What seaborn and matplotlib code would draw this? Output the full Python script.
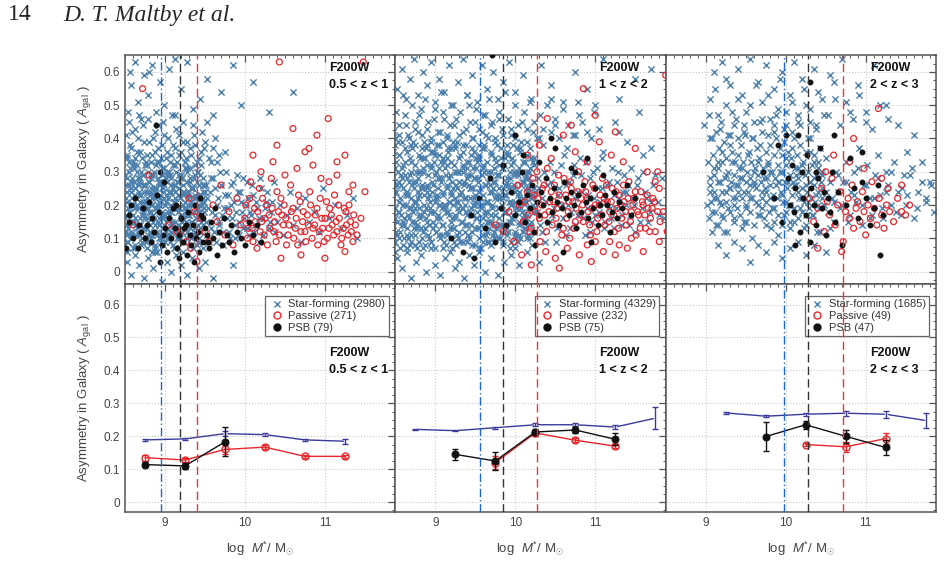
import numpy as np
import pandas as pd
import matplotlib
matplotlib.use("Agg")
import matplotlib.pyplot as plt
import seaborn as sns
from matplotlib.ticker import MultipleLocator, FuncFormatter
from matplotlib.lines import Line2D

sns.set_theme(style="white")
plt.rcParams['font.family'] = ['Liberation Sans', 'DejaVu Sans']
plt.rcParams['mathtext.fontset'] = 'custom'
plt.rcParams['mathtext.rm'] = 'Liberation Sans'
plt.rcParams['mathtext.it'] = 'Liberation Sans:italic'
plt.rcParams['mathtext.bf'] = 'Liberation Sans:bold'

# ---------------- data: top-row scatter, pairs (log M* x100, A_gal x100) ----------------
sf_top1 = [851,22,852,14,853,28,854,9,855,18,856,31,857,25,858,12,859,20,860,7,861,27,862,16,863,23,864,11,865,30,866,19,867,14,868,26,869,21,870,8,
871,17,872,29,873,13,874,24,875,19,876,10,877,32,878,22,879,15,880,27,881,12,882,20,883,25,884,6,885,17,886,30,887,14,888,23,889,19,890,11,
891,28,892,16,893,21,894,26,895,9,896,18,897,24,898,13,899,31,900,20,901,15,902,27,903,10,904,22,905,17,906,29,907,12,908,24,909,19,910,8,
911,26,912,15,913,21,914,30,915,13,916,18,917,25,918,11,919,22,920,16,921,28,922,9,923,20,924,24,925,14,926,19,927,31,928,12,929,23,930,17,
931,27,932,10,933,21,934,15,935,25,936,18,937,29,938,13,939,22,940,8,941,19,942,26,943,16,944,12,945,23,946,20,947,28,948,14,949,18,950,24,
851,17,853,11,855,26,857,20,859,15,861,32,863,19,865,13,867,24,869,28,871,10,873,21,875,26,877,16,879,11,881,23,883,18,885,29,887,8,889,25,
891,20,893,14,895,27,897,17,899,22,901,12,903,29,905,24,907,18,909,14,911,21,913,26,915,10,917,19,919,28,921,15,923,23,925,31,927,17,929,20,
931,13,933,25,935,11,937,22,939,16,941,30,943,20,945,15,947,22,949,26,
850,29,851,12,852,24,853,6,854,19,855,33,856,15,857,27,858,10,859,22,860,17,861,31,862,8,863,25,864,14,865,20,866,28,867,11,868,23,869,16,
870,30,871,9,872,26,873,18,874,13,875,32,876,21,877,7,878,24,879,19,880,27,881,14,882,29,883,10,884,22,885,17,886,12,887,24,888,6,889,19,
890,33,891,15,892,27,893,10,894,22,895,17,896,31,897,8,898,25,899,14,900,20,901,28,902,11,903,23,904,16,905,30,906,9,907,26,908,18,909,13,
910,32,911,21,912,7,913,24,914,19,915,27,916,14,917,29,918,10,919,22,920,17,921,12,922,24,923,6,924,19,925,33,926,15,927,27,928,10,929,22,
930,17,931,31,932,8,933,25,934,14,935,20,936,28,937,11,938,23,939,16,940,30,941,9,942,26,943,18,944,13,945,32,946,21,947,7,948,24,949,19,
850,16,851,26,852,9,853,21,854,13,855,30,856,18,857,24,858,11,859,28,860,20,861,15,862,25,863,7,864,22,865,32,866,12,867,19,868,27,869,14,
870,23,871,10,872,29,873,17,874,16,875,26,876,9,877,21,878,13,879,30,880,18,881,24,882,11,883,28,884,20,885,15,886,25,887,7,888,22,889,32,
890,12,891,19,892,27,893,14,894,23,895,10,896,29,897,17,898,16,899,26,900,9,901,21,902,13,903,30,904,18,905,24,906,11,907,28,908,20,909,15,
910,25,911,7,912,22,913,32,914,12,915,19,916,27,917,14,918,23,919,10,920,29,921,17,922,16,923,26,924,9,925,21,926,13,927,30,928,18,929,24,
930,11,931,28,932,20,933,15,934,25,935,7,936,22,937,32,938,12,939,19,940,27,941,14,942,23,943,10,944,29,945,17,946,16,947,26,948,9,949,21,
852,35,856,38,859,42,862,34,866,40,869,36,873,44,876,33,880,39,884,35,887,42,891,37,895,34,899,41,902,36,906,33,910,38,914,43,918,35,922,39,
926,34,931,37,936,41,940,33,945,36,950,39,955,34,960,37,965,33,975,36,
851,41,853,34,855,45,857,37,860,33,863,43,865,36,868,47,871,34,874,39,877,35,879,46,882,33,885,40,888,36,891,44,893,33,896,38,898,45,901,34,
904,40,907,35,909,47,912,37,915,33,917,41,920,36,923,45,925,33,928,39,932,35,935,44,938,38,942,34,946,42,949,37,953,45,957,33,962,40,968,35,
854,48,858,56,862,63,866,51,870,46,874,59,879,53,884,62,889,48,894,57,899,50,905,61,912,47,920,55,928,63,935,49,944,52,952,58,960,47,970,54,
985,62,995,50,1010,57,1030,48,1060,54,912,64,880,60,856,60,
852,3,857,-1,863,5,868,2,874,-2,879,4,885,1,890,6,896,-3,902,3,908,0,914,5,920,2,927,-1,934,4,942,1,950,3,960,-2,985,2,
951,15,953,22,955,9,957,28,959,18,961,12,963,25,965,20,967,14,969,30,971,17,973,8,975,23,977,19,980,12,982,26,984,16,986,21,988,10,990,29,
992,15,994,24,996,18,998,13,1001,20,1003,27,1005,11,1008,17,1010,23,1012,14,1015,19,1018,9,1020,25,1023,16,1026,21,1030,13,1033,18,1036,27,
1040,15,1044,20,1048,11,1052,17,1056,24,1060,14,1065,19,1070,9,1075,22,1080,15,1086,18,1092,12,1098,25,1105,16,1112,20,1120,13,1128,17,
1135,22,1140,10,
951,26,952,11,954,19,956,24,958,13,960,28,962,17,964,9,966,22,968,15,970,26,972,12,974,19,976,30,978,16,979,23,981,10,983,20,985,27,987,14,
989,18,991,24,993,11,995,21,997,28,999,16,1002,13,1004,22,1006,18,1009,26,1011,12,1014,21,1017,16,1019,28,1022,11,1025,19,1028,24,1031,15,
1034,21,1038,12]
pas_top1 = [872,55,880,29,860,14,905,14,915,12,930,22,937,18,920,12,927,9,932,7,940,3,945,16,950,12,955,9,960,20,965,15,970,26,975,11,980,18,985,8,
990,22,995,14,1000,16,1003,10,1006,22,1009,13,1012,19,1015,7,1018,25,1021,15,1024,11,1027,20,1030,17,1033,28,1036,12,1039,9,1042,18,1045,22,
1048,14,1051,16,1054,11,1057,26,1060,19,1063,13,1066,8,1069,21,1072,15,1075,12,1078,17,1081,24,1084,10,1087,14,1090,19,1093,12,1096,16,1099,9,
1102,21,1105,13,1108,17,1111,11,1114,15,1117,20,1120,8,1123,13,1126,18,1129,11,1132,15,1135,9,1138,14,
1001,20,1004,13,1007,27,1010,9,1013,15,1016,18,1019,12,1022,22,1025,16,1028,8,1031,13,1034,19,1037,15,1040,24,1043,11,1046,17,1049,20,1052,8,
1055,14,1058,18,1061,10,1064,16,1067,23,1070,12,1073,18,1076,9,1079,14,1082,20,1085,13,1088,17,1091,8,1094,22,1097,13,1100,16,1103,10,1106,19,
1109,14,1112,23,1115,12,1118,16,1121,10,1124,19,1127,14,1130,20,1133,12,1136,17,1140,11,
1020,30,1035,33,1050,29,1065,31,1075,36,1085,32,1095,28,1105,27,1115,33,1125,35,1040,38,1060,43,1080,37,1104,46,1010,35,1090,41,1130,24,
1045,4,1070,5,1100,4,1125,6,1043,63,1148,63,1145,16,1150,24,1135,26,1115,29]
psb_top1 = [851,7,855,17,855,15,857,20,863,22,868,14,872,19,875,10,878,14,880,21,883,9,886,12,889,44,890,23,894,30,896,8,899,27,900,13,903,6,905,16,
908,10,910,19,912,13,915,7,917,11,920,16,922,9,924,13,927,5,929,18,931,11,933,8,935,14,937,20,939,10,941,12,943,6,945,17,947,9,950,13,
952,11,955,7,958,15,960,10,963,19,965,5,968,12,971,8,974,16,977,11,980,9,983,14,986,6,990,12,995,10,1000,8,1005,15,1010,11,894,3,860,10,
866,7,870,12,884,16,892,18,898,11,914,20,918,4,926,14,936,3,944,22,948,16,954,9,1015,14,1020,9]

sf_top2 = [846,22,847,14,849,31,850,9,852,26,853,18,855,35,856,12,858,28,859,20,861,16,862,33,864,7,865,24,867,19,868,29,870,11,871,37,873,21,874,15,
876,27,877,13,879,30,880,17,882,25,883,10,885,34,886,23,888,19,889,32,891,22,892,14,894,31,895,9,897,26,898,18,900,35,901,12,903,28,904,20,
906,16,907,33,909,7,910,24,912,19,913,29,915,11,916,37,918,21,919,15,921,27,922,13,924,30,925,17,927,25,928,10,930,34,931,23,933,19,934,32,
936,22,937,14,939,31,940,9,942,26,943,18,945,35,946,12,948,28,949,20,951,16,952,33,954,7,955,24,957,19,958,29,960,11,961,37,963,21,964,15,
966,27,967,13,969,30,970,17,972,25,973,10,975,34,976,23,978,19,979,32,981,22,982,14,984,31,985,9,987,26,988,18,990,35,991,12,993,28,994,20,
996,16,997,33,999,7,1000,24,1002,19,1003,29,1005,11,1006,37,1008,21,1009,15,1011,27,1012,13,1014,30,1015,17,1017,25,1018,10,1020,34,1021,23,
1023,19,1024,32,
845,17,848,26,851,12,854,21,857,29,860,15,863,24,866,10,869,19,872,27,875,8,878,22,881,16,884,30,887,13,890,25,893,19,896,36,899,14,902,23,
905,28,908,11,911,20,914,32,917,17,920,24,923,9,926,21,929,27,932,15,935,30,938,18,941,11,944,25,947,20,950,28,953,13,956,22,959,31,962,17,
965,9,968,26,971,20,974,14,977,29,980,23,983,12,986,18,989,27,992,21,995,15,998,30,1001,10,1004,22,1007,26,1010,16,1013,21,1016,28,1019,14,
1022,20,1025,24,
845,29,846,12,847,36,848,24,849,6,850,19,851,33,852,15,853,39,854,27,855,10,856,22,857,17,858,31,859,8,860,25,861,14,862,37,863,20,864,28,
865,11,866,23,867,16,868,34,869,30,870,9,871,26,872,18,873,13,874,38,875,32,876,21,877,7,878,24,879,35,880,19,881,30,882,13,883,37,884,25,
885,7,886,18,887,34,888,16,889,38,890,26,891,11,892,23,893,18,894,32,895,9,896,24,897,15,898,36,899,21,900,29,901,12,902,22,903,17,904,35,
905,31,906,10,907,27,908,19,909,14,910,39,911,33,912,20,913,8,914,25,915,34,916,18,917,28,918,13,919,37,920,23,921,7,922,20,923,32,924,16,
925,38,926,26,927,11,928,21,929,18,930,30,931,9,932,24,933,15,934,36,935,19,936,27,937,12,938,22,939,17,940,33,941,29,942,10,943,25,944,19,
945,14,946,37,947,31,948,22,949,8,950,23,951,34,952,18,953,28,954,13,955,35,956,25,957,7,958,20,959,32,960,16,961,38,962,26,963,11,964,21,
965,18,966,30,967,9,968,24,969,15,970,36,971,19,972,27,973,12,974,22,975,17,976,33,977,29,978,10,979,25,980,19,981,14,982,37,983,31,984,22,
985,8,986,23,987,34,988,18,989,28,990,13,991,35,992,25,993,7,994,20,995,32,996,16,997,38,998,26,999,11,1000,21,1001,18,1002,30,1003,9,
1004,24,1005,15,1006,36,1007,19,1008,27,1009,12,1010,22,1011,17,1012,33,1013,29,1014,10,1015,25,1016,19,1017,14,1018,37,1019,31,1020,22,
1021,8,1022,23,1023,34,1024,18,
845,21,846,33,847,9,848,27,849,16,850,38,851,24,852,11,853,30,854,18,855,35,856,7,857,26,858,14,859,32,860,20,861,10,862,29,863,23,864,13,
865,36,866,17,867,27,868,8,869,22,870,33,871,15,872,39,873,25,874,11,875,19,876,30,877,14,878,28,879,9,880,23,881,34,882,17,883,26,884,12,
885,31,886,20,887,8,888,37,889,24,890,15,891,29,892,10,893,21,894,36,895,18,896,27,897,13,898,33,899,22,900,7,901,30,902,16,903,25,904,11,
905,38,906,20,907,28,908,14,909,34,910,23,911,9,912,31,913,18,914,26,915,12,916,36,917,21,918,29,919,10,920,33,921,16,922,25,923,13,924,37,
925,22,926,8,927,30,928,19,929,27,930,12,931,35,932,24,933,15,934,31,935,9,936,26,937,20,938,38,939,14,940,28,941,11,942,33,943,22,944,17,
945,29,946,8,947,25,948,36,949,13,950,21,951,31,952,16,953,27,954,10,955,34,956,20,957,14,958,37,959,23,960,9,961,30,962,18,963,26,964,12,
965,33,966,21,967,15,968,28,969,8,970,35,971,24,972,11,973,31,974,17,975,27,976,13,977,38,978,22,979,16,980,29,981,10,982,34,983,20,984,25,
985,14,986,32,987,18,988,23,989,11,990,36,991,26,992,15,993,30,994,21,995,9,996,34,997,17,998,25,999,12,1000,29,1001,19,1002,37,1003,23,
1004,14,1005,31,1006,10,1007,26,1008,18,1009,33,1010,21,1011,13,1012,28,1013,16,1014,35,1015,24,1016,11,1017,30,1018,19,1019,27,1020,15,
1021,22,1022,33,1023,12,1024,25,
850,40,854,44,858,39,862,47,866,41,870,38,874,45,878,42,882,49,886,39,890,43,894,40,898,46,902,38,906,42,910,48,914,40,918,44,922,39,926,46,
930,41,934,38,938,43,942,50,946,40,950,45,954,38,958,42,962,47,966,40,970,44,975,39,980,46,985,41,990,38,995,43,1000,40,1008,45,1015,39,
1022,42,1030,40,
847,42,851,48,855,41,859,53,863,44,867,40,871,50,875,43,879,47,883,41,887,52,891,45,895,39,899,49,903,42,907,54,911,46,915,41,919,50,923,44,
927,39,931,48,935,42,939,53,943,45,947,40,951,49,955,43,959,47,963,41,967,52,971,45,975,40,979,48,983,43,987,54,991,46,995,41,999,50,1003,44,
1007,39,1011,48,1015,43,1019,51,1023,45,1027,40,1031,47,1035,43,1040,50,1045,42,1050,46,1055,40,1060,49,1066,44,1072,41,1078,51,1084,45,
1090,42,1098,48,1105,43,
852,55,858,61,863,52,868,58,873,64,878,53,884,60,889,56,894,63,900,51,905,58,911,54,917,62,922,50,928,57,934,64,940,53,946,59,952,51,958,62,
965,55,972,60,978,52,985,57,992,63,1000,54,1010,59,1020,52,1032,62,1045,56,1060,51,1075,60,1090,55,1110,64,1130,52,1150,58,1170,61,
852,4,858,1,864,6,870,-2,876,3,882,5,888,0,894,7,900,2,906,-1,912,4,918,6,924,1,930,3,936,-2,942,5,948,2,955,6,962,0,970,4,978,-1,986,3,
995,5,1005,2,1015,6,1030,3,
1027,18,1030,25,1033,12,1036,30,1039,21,1042,15,1045,27,1048,19,1051,9,1054,23,1057,32,1060,16,1063,26,1066,20,1069,13,1072,29,1075,22,
1078,17,1081,34,1084,24,1087,11,1090,19,1093,28,1096,15,1099,22,1102,31,1105,18,1108,25,1111,13,1114,21,1117,27,1120,16,1123,23,1126,19,
1129,30,1132,14,1135,24,1138,20,1141,26,1144,17,1147,22,1150,12,1154,28,1158,19,1162,24,1166,15,1170,21,1175,29,1180,17,
1028,28,1031,14,1034,22,1037,9,1040,26,1043,33,1046,17,1049,30,1052,13,1055,25,1058,20,1061,35,1064,11,1067,27,1070,18,1073,32,1076,14,
1079,24,1082,29,1085,16,1088,33,1091,23,1094,12,1097,30,1100,17,1103,25,1106,21,1109,34,1112,15,1115,26,1118,19,1121,31,1124,13,1127,27,
1130,22,1133,17,1136,29,1139,24,1142,14,1145,31,1148,20,1152,26,1156,15,1160,30,1164,22,1168,18,1172,26,1178,21,1184,28,1186,16,
1035,38,1050,44,1065,37,1080,47,1095,40,1110,36,1125,45,1140,39,1155,48,1170,37,1045,52,1075,41,1100,50,1130,42,1160,35]
pas_top2 = [1005,20,1010,15,1015,24,1018,12,1022,28,1025,18,1028,22,1031,9,1034,25,1037,17,1040,31,1043,21,1046,14,1049,26,1052,19,1055,23,1058,11,
1061,28,1064,16,1067,21,1070,25,1073,13,1076,19,1079,30,1082,22,1085,15,1088,24,1091,18,1094,11,1097,26,1100,20,1103,16,1106,23,1109,28,
1112,14,1115,21,1118,18,1121,25,1124,12,1127,19,1130,23,1133,16,1136,21,1139,14,1142,27,1145,18,1148,22,1151,11,1154,17,1157,24,1160,20,
1163,13,1166,19,1169,16,1172,22,1175,12,1178,18,1181,15,
1012,21,1016,17,1020,13,1024,23,1027,30,1030,16,1033,20,1036,26,1039,12,1042,18,1045,24,1048,21,1051,16,1054,29,1057,20,1060,13,1063,23,
1066,18,1069,27,1072,21,1075,15,1078,24,1081,17,1084,20,1087,27,1090,22,1093,14,1096,19,1099,25,1102,12,1105,20,1108,17,1111,22,1114,26,
1117,15,1120,21,1123,17,1126,24,1129,13,1132,20,1135,26,1138,18,1141,22,1144,15,1147,20,1150,24,1153,18,1156,13,1159,21,1162,17,1165,23,
1168,12,1171,19,1174,21,
985,12,992,18,998,9,1003,26,1008,5,1020,2,1038,6,1050,4,1065,7,1080,5,1095,3,1110,6,1125,5,1140,7,1055,1,1100,9,1130,8,1160,6,1180,9,
1185,18,1190,12,975,14,1068,10,1090,8,1118,9,1145,10,
1015,35,1030,38,1045,34,1060,41,1075,36,1090,33,1105,39,1120,35,1135,33,1150,37,1040,46,1070,44,1100,47,1085,55,1125,42,1188,59,1165,30,
1175,27,1180,25,1178,30]
psb_top2 = [920,10,935,6,945,17,955,22,962,13,968,28,975,9,982,19,988,14,995,24,1000,17,1004,21,1008,30,1012,15,1015,23,1018,19,1021,26,1024,12,
1027,21,1030,17,1032,24,1035,20,1038,28,1040,15,1043,22,1046,18,1049,25,1052,21,1055,14,1058,19,1061,27,1064,22,1067,17,1070,24,1073,20,
1076,13,1079,23,1082,18,1085,26,1088,21,1091,16,1094,22,1097,19,1100,25,1103,14,1106,20,1109,17,1112,23,1115,20,1118,12,1121,18,1124,24,
1127,16,1130,21,1134,19,1140,26,1145,17,1150,22,1010,35,1030,33,1050,37,1070,31,1090,34,1025,8,1060,6,1095,9,985,32,1000,41,971,65,
1045,40,1110,29,948,4,1075,30]

sf_top3 = [905,24,908,18,910,31,913,14,915,27,918,21,920,36,923,12,925,29,928,19,930,25,933,33,935,16,938,22,940,40,943,28,945,13,948,24,950,19,
953,35,955,26,958,10,960,30,963,21,965,17,968,38,970,24,973,28,975,14,978,32,980,22,983,19,985,42,988,26,990,11,993,30,995,23,998,17,1000,34,
1003,27,1005,20,1008,37,1010,15,1013,29,1015,24,1018,19,1020,32,1023,13,1025,26,1028,21,1030,36,1033,17,1035,28,1038,23,1040,31,1043,12,
1045,25,1048,20,1050,34,1053,18,1055,27,1058,22,1060,15,1063,30,1066,24,
902,20,906,28,911,22,916,33,921,17,926,24,931,38,936,20,941,26,946,31,951,15,956,22,961,27,966,33,971,19,976,24,981,30,986,15,991,27,996,35,
1001,21,1006,13,1011,26,1016,31,1021,22,1026,17,1031,27,1036,33,1041,20,1046,29,1051,24,1056,13,1061,21,1066,29,1071,20,1076,27,1081,17,
1086,23,1091,31,1096,20,1101,26,1106,16,1111,22,1116,28,1121,19,1126,24,1132,30,1138,18,1145,25,
903,33,904,16,905,40,906,26,907,21,908,12,909,35,910,24,911,29,912,18,913,42,914,22,915,31,916,14,917,37,918,27,919,20,920,33,921,24,922,16,
923,39,924,28,925,21,926,34,927,12,928,30,929,25,930,41,931,18,932,27,933,36,934,22,935,29,936,15,937,33,938,26,939,19,940,35,941,24,942,31,
943,17,944,38,945,28,946,22,947,33,948,15,949,41,950,27,951,20,952,30,953,24,954,36,955,18,956,28,957,33,958,22,959,40,960,26,961,14,962,31,
963,25,964,37,965,20,966,29,967,34,968,17,969,27,970,42,971,22,972,31,973,16,974,25,975,36,976,21,977,28,978,33,979,18,980,38,981,26,982,13,
983,30,984,23,985,35,986,19,987,28,988,40,989,22,990,32,991,17,992,27,993,37,994,24,995,14,996,30,997,21,998,39,999,27,1000,18,1001,32,
1002,25,1003,36,1004,20,1005,29,1006,15,1007,34,1008,23,1009,27,1010,40,1011,19,1012,31,1013,26,1014,35,1015,16,1016,28,1017,22,1018,38,
1019,30,1020,18,1021,25,1022,33,1023,21,1024,29,1025,14,1026,36,1027,24,1028,30,1029,19,1030,27,1031,40,1032,22,1033,32,1034,17,1035,26,
1036,35,1037,21,1038,29,1039,12,1040,33,1041,24,1042,19,1043,37,1044,27,1045,22,1046,30,
898,44,905,52,910,60,915,47,920,63,925,50,930,56,935,44,940,61,945,53,950,48,955,64,960,45,965,57,970,51,975,62,980,46,985,55,990,49,995,60,
1000,44,1005,53,1010,63,1015,47,1020,58,1025,50,1030,45,1035,61,1040,54,1048,47,1055,59,1062,52,1070,64,1080,48,1090,56,1100,45,1110,62,
1125,50,1140,44,908,40,918,43,928,41,938,46,948,42,958,40,968,45,978,41,988,47,998,43,1008,42,1018,44,1028,40,1038,43,
904,47,912,55,919,45,926,58,933,48,941,52,948,44,956,50,963,56,971,46,978,53,986,44,993,58,1001,48,1008,51,1016,45,1023,55,1031,49,1038,44,
1046,52,1053,47,1061,57,1068,44,1076,51,1084,46,1092,53,1100,48,1108,43,1118,50,1128,46,
915,8,925,5,935,9,945,7,955,3,965,8,975,6,985,9,995,4,1005,7,1015,9,1025,5,1035,8,1050,6,
1068,19,1072,27,1075,33,1078,15,1082,24,1085,30,1088,21,1092,37,1095,14,1098,26,1102,32,1105,22,1108,17,1112,29,1115,35,1118,23,1122,16,
1125,30,1128,26,1132,20,1136,33,1140,24,1144,17,1148,29,1152,23,1158,31,1164,19,1170,27,1176,22,1182,26,
1150,20,1155,29,1160,16,1165,24,1170,33,1175,21,1180,27,1185,18,1190,23,1195,30,1200,25,1210,19,1220,28,1230,23,1240,31,1152,36,1160,41]
pas_top3 = [1030,22,1035,15,1040,19,1045,25,1048,12,1052,21,1055,17,1058,28,1062,14,1065,20,1068,24,1072,9,1075,18,1078,22,1080,16,1083,26,1085,13,
1088,19,1090,21,1093,15,1096,24,1098,18,1100,11,1103,20,1106,16,1108,27,1111,19,1114,14,1117,22,1120,17,1123,13,1126,20,1130,18,1135,15,
1140,22,1145,18,1150,17,1155,20,1060,35,1080,33,1116,49,1085,40,1040,7,1070,6,1120,28,1098,31,1050,30,1128,25,1145,26]
psb_top3 = [972,30,985,22,990,38,995,15,1000,41,1003,28,1005,20,1008,32,1010,18,1012,25,1015,41,1018,12,1020,30,1022,22,1025,17,1027,35,1030,9,
1032,25,1035,20,1038,14,1040,28,1043,37,1045,19,1048,24,1050,11,1053,22,1055,18,1058,30,1062,15,1065,24,1070,8,1075,20,1080,34,1085,25,
1090,16,1095,27,1100,22,1105,14,1110,19,1115,26,1118,5,1122,17,1031,57,1060,41,1012,8,1095,36,1038,30]

# ---------------- data: bottom-row binned medians ----------------
sf1_x = [8.75, 9.25, 9.75, 10.25, 10.75, 11.25]
sf1_y = [0.189, 0.192, 0.208, 0.205, 0.189, 0.185]
sf1_e = [0.003, 0.003, 0.007, 0.004, 0.003, 0.008]
pa1_x = [8.75, 9.25, 9.75, 10.25, 10.75, 11.25]
pa1_y = [0.135, 0.128, 0.160, 0.167, 0.139, 0.139]
pa1_e = [0.009, 0.007, 0.014, 0.006, 0.004, 0.005]
ps1_x = [8.75, 9.25, 9.75]
ps1_y = [0.114, 0.110, 0.183]
ps1_e = [0.008, 0.009, 0.044]

sf2_x = [8.75, 9.25, 9.75, 10.25, 10.75, 11.25, 11.75]
sf2_y = [0.221, 0.217, 0.226, 0.235, 0.235, 0.228, 0.255]
sf2_e = [0.002, 0.002, 0.003, 0.004, 0.005, 0.007, 0.033]
pa2_x = [9.75, 10.25, 10.75, 11.25]
pa2_y = [0.120, 0.210, 0.188, 0.170]
pa2_e = [0.020, 0.010, 0.006, 0.007]
ps2_x = [9.25, 9.75, 10.25, 10.75, 11.25]
ps2_y = [0.145, 0.125, 0.213, 0.219, 0.191]
ps2_e = [0.016, 0.026, 0.010, 0.010, 0.019]

sf3_x = [9.25, 9.75, 10.25, 10.75, 11.25, 11.75]
sf3_y = [0.271, 0.261, 0.267, 0.270, 0.267, 0.248]
sf3_e = [0.003, 0.003, 0.005, 0.008, 0.011, 0.024]
pa3_x = [10.25, 10.75, 11.25]
pa3_y = [0.175, 0.168, 0.193]
pa3_e = [0.005, 0.016, 0.017]
ps3_x = [9.75, 10.25, 10.75, 11.25]
ps3_y = [0.199, 0.235, 0.200, 0.166]
ps3_e = [0.045, 0.012, 0.019, 0.022]

# mass-completeness limits (SF, PSB, passive)
limits = [[8.95, 9.19, 9.40], [9.56, 9.84, 10.27], [9.98, 10.28, 10.72]]
z_labels = ["0.5 < z < 1", "1 < z < 2", "2 < z < 3"]
counts_sf = [2980, 4329, 1685]
counts_pa = [271, 232, 49]
counts_ps = [79, 75, 47]

# ---------------- styling ----------------
C_SF = "#4d80ad"
C_PA = "#e8262b"
C_PS = "#111111"
C_SFL = "#3a3a9e"
C_LIM = ["#2266c0", "#333333", "#e8383d"]
SPINE = "#555555"
TXT = "#444444"

def pairs(lst):
    a = np.array(lst, dtype=float).reshape(-1, 2) / 100.0
    return pd.DataFrame({"mass": a[:, 0], "asym": a[:, 1]})

fig, axes = plt.subplots(2, 3, figsize=(9.45, 5.64), dpi=100)
fig.subplots_adjust(left=125/945, right=936/945, top=1-55/564, bottom=1-512/564,
                    wspace=0, hspace=0)

tops = [(sf_top1, pas_top1, psb_top1), (sf_top2, pas_top2, psb_top2), (sf_top3, pas_top3, psb_top3)]
bots = [(sf1_x, sf1_y, sf1_e, pa1_x, pa1_y, pa1_e, ps1_x, ps1_y, ps1_e),
        (sf2_x, sf2_y, sf2_e, pa2_x, pa2_y, pa2_e, ps2_x, ps2_y, ps2_e),
        (sf3_x, sf3_y, sf3_e, pa3_x, pa3_y, pa3_e, ps3_x, ps3_y, ps3_e)]

yfmt = FuncFormatter(lambda v, p: "0" if abs(v) < 1e-9 else f"{v:.1f}")

for j in range(3):
    axt = axes[0, j]
    axb = axes[1, j]
    sf, pa, ps = tops[j]
    sns.scatterplot(data=pairs(sf), x="mass", y="asym", ax=axt, marker="x", s=20,
                    color=C_SF, linewidth=1.0, zorder=2, legend=False)
    sns.scatterplot(data=pairs(pa), x="mass", y="asym", ax=axt, marker="o", s=18,
                    facecolor="none", edgecolor=C_PA, linewidth=0.9, zorder=3, legend=False)
    sns.scatterplot(data=pairs(ps), x="mass", y="asym", ax=axt, marker="o", s=16,
                    color=C_PS, edgecolor=C_PS, linewidth=0.2, zorder=4, legend=False)

    sx, sy, se, px, py, pe, bx, by, be = bots[j]
    sns.lineplot(x=sx, y=sy, ax=axb, color=C_SFL, linewidth=1.0, marker="x",
                 markersize=4, markeredgewidth=1.0, zorder=3)
    axb.errorbar(sx, sy, yerr=se, fmt="none", ecolor=C_SFL, elinewidth=1, capsize=2.5, zorder=3)
    sns.lineplot(x=px, y=py, ax=axb, color=C_PA, linewidth=1.0, marker="o",
                 markersize=5, markerfacecolor="none", markeredgecolor=C_PA,
                 markeredgewidth=1.0, zorder=4)
    axb.errorbar(px, py, yerr=pe, fmt="none", ecolor=C_PA, elinewidth=1, capsize=2.5, zorder=4)
    sns.lineplot(x=bx, y=by, ax=axb, color=C_PS, linewidth=1.0, marker="o",
                 markersize=5, markeredgecolor=C_PS, zorder=5)
    axb.errorbar(bx, by, yerr=be, fmt="none", ecolor=C_PS, elinewidth=1, capsize=2.5, zorder=5)

    for ax in (axt, axb):
        for k, xv in enumerate(limits[j]):
            ls = (0, (6, 2, 1, 2)) if k == 0 else (0, (6, 3))
            ax.axvline(xv, color=C_LIM[k], lw=1.0, ls=ls, zorder=6)
        ax.set_xlim(8.5, 11.88)
        ax.xaxis.set_major_locator(MultipleLocator(1))
        ax.xaxis.set_minor_locator(MultipleLocator(0.1))
        ax.yaxis.set_major_locator(MultipleLocator(0.1))
        ax.yaxis.set_minor_locator(MultipleLocator(0.025))
        ax.yaxis.set_major_formatter(yfmt)
        ax.grid(True, which="major", ls=":", color="#c8c8c8", lw=0.8)
        ax.tick_params(which="both", direction="in", top=True, right=True,
                       color=SPINE, labelcolor=TXT, labelsize=8.5)
        ax.tick_params(which="major", length=5, width=0.9)
        ax.tick_params(which="minor", length=2.5, width=0.7)
        for sp in ax.spines.values():
            sp.set_color(SPINE)
            sp.set_linewidth(1.1)
        ax.set_xlabel("")
        ax.set_ylabel("")
        if j > 0:
            ax.tick_params(labelleft=False)
    axt.set_ylim(-0.036, 0.651)
    axb.set_ylim(-0.03, 0.664)
    axt.tick_params(labelbottom=False)
    axb.set_xlabel(r"log  $M^{*}$/ M$_{\odot}$", fontsize=9.5, color=TXT, labelpad=8)

    axt.text(0.755, 0.943, "F200W", transform=axt.transAxes, fontsize=9, fontweight="bold",
             va="center", ha="left", color="#111111", zorder=10)
    axt.text(0.755, 0.868, z_labels[j], transform=axt.transAxes, fontsize=9, fontweight="bold",
             va="center", ha="left", color="#111111", zorder=10)
    axb.text(0.755, 0.694, "F200W", transform=axb.transAxes, fontsize=9, fontweight="bold",
             va="center", ha="left", color="#111111")
    axb.text(0.755, 0.622, z_labels[j], transform=axb.transAxes, fontsize=9, fontweight="bold",
             va="center", ha="left", color="#111111")

    handles = [Line2D([], [], ls="none", marker="x", color=C_SF, markersize=4, markeredgewidth=1),
               Line2D([], [], ls="none", marker="o", markerfacecolor="none", markeredgecolor=C_PA,
                      markersize=5, markeredgewidth=1),
               Line2D([], [], ls="none", marker="o", color=C_PS, markersize=5)]
    labels = [f"Star-forming ({counts_sf[j]})", f"Passive ({counts_pa[j]})", f"PSB ({counts_ps[j]})"]
    leg = axb.legend(handles, labels, loc="upper right", bbox_to_anchor=(0.975, 0.945),
                     fontsize=8, frameon=True, fancybox=False, framealpha=1,
                     borderpad=0.3, labelspacing=0.15, handletextpad=0.3, handlelength=1.5,
                     borderaxespad=0)
    leg.get_frame().set_edgecolor("#666666")
    leg.get_frame().set_linewidth(0.9)
    for t in leg.get_texts():
        t.set_color("#333333")

for i in range(2):
    axes[i, 0].set_ylabel(r"Asymmetry in Galaxy ( $A_{\rm gal}$ )", fontsize=9.5, color=TXT, labelpad=8)

fig.text(8/945, 1-15/564, "14", fontsize=17, family="Liberation Serif", va="center", ha="left")
fig.text(63/945, 1-15/564, "D. T. Maltby et al.", fontsize=17, family="Liberation Serif",
         style="italic", va="center", ha="left")

fig.savefig("out.png", dpi=100)
